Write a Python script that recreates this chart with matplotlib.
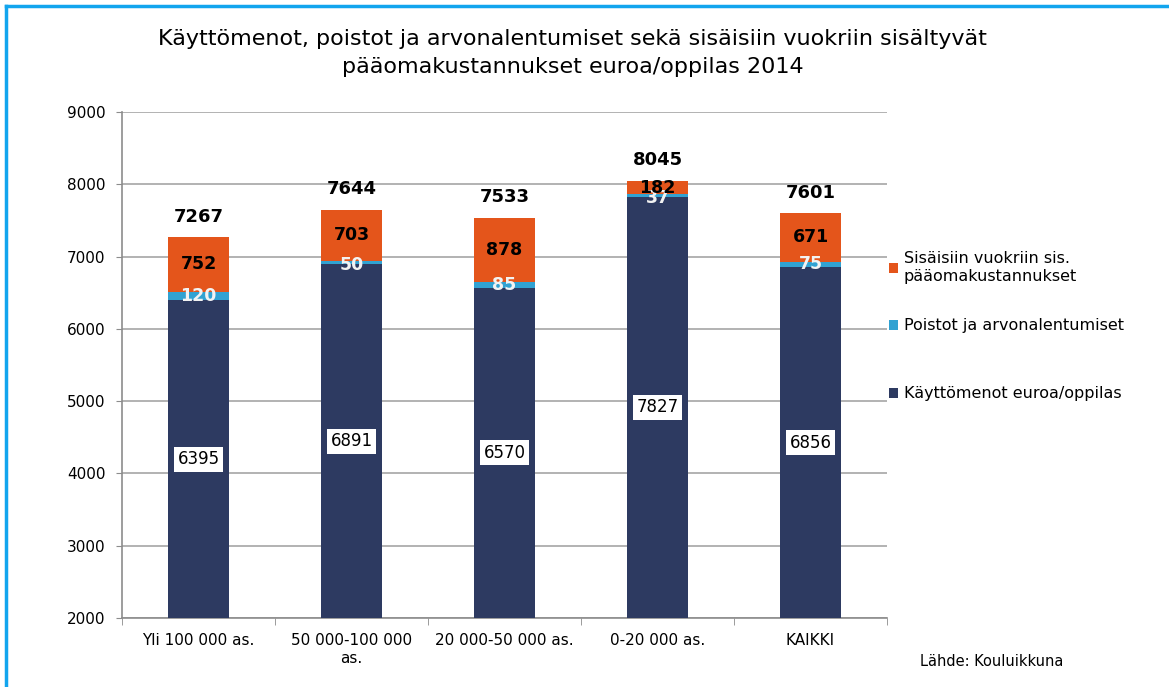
import matplotlib.pyplot as plt
from matplotlib.patches import Patch
import numpy as np

categories = ['Yli 100 000 as.', '50 000-100 000\nas.', '20 000-50 000 as.', '0-20 000 as.', 'KAIKKI']
kayttomenot = [6395, 6891, 6570, 7827, 6856]
poistot = [120, 50, 85, 37, 75]
vuokrat = [752, 703, 878, 182, 671]
totals = [7267, 7644, 7533, 8045, 7601]

series_names = ['Käyttömenot euroa/oppilas', 'Poistot ja arvonalentumiset',
                'Sisäisiin vuokriin sis.\npääomakustannukset']
colors = ['#2D3A61', '#31A2D2', '#E4551B']
ymin = 2000

plt.rcParams['font.family'] = 'DejaVu Sans'

fig = plt.figure(figsize=(11.69, 6.87), dpi=100)
ax = fig.add_axes([0.1044, 0.1004, 0.6544, 0.7366])

x = np.arange(len(categories))
k = np.array(kayttomenot)
p = np.array(poistot)
v = np.array(vuokrat)
w = 0.4

ax.bar(x, k, w, color=colors[0], zorder=3)
ax.bar(x, p, w, bottom=k, color=colors[1], zorder=3)
ax.bar(x, v, w, bottom=k + p, color=colors[2], zorder=3)

ax.set_ylim(ymin, 9000)
ax.set_xlim(-0.5, len(categories) - 0.5)
ax.set_yticks(range(2000, 9001, 1000))
ax.yaxis.grid(True, color='#A6A6A6', linewidth=1.2, zorder=0)
ax.tick_params(axis='y', labelsize=11, length=4, color='#8C8C8C', pad=8)

ax.set_xticks(x)
ax.set_xticklabels(categories, fontsize=11)
ax.set_xticks(np.arange(-0.5, len(categories)), minor=True)
ax.tick_params(axis='x', which='major', length=0, pad=11)
ax.tick_params(axis='x', which='minor', length=5, color='#8C8C8C')

for s in ['top', 'right']:
    ax.spines[s].set_visible(False)
for s in ['left', 'bottom']:
    ax.spines[s].set_color('#8C8C8C')
    ax.spines[s].set_linewidth(1.2)

for i in range(len(categories)):
    ax.text(x[i], (ymin + k[i]) / 2, str(k[i]), ha='center', va='center', fontsize=12,
            bbox=dict(facecolor='white', edgecolor='none', pad=2.5), zorder=5)
    # small segments: the label sits a little lower, as in the original
    dy = -30 if p[i] < 60 else 0
    ax.text(x[i], k[i] + p[i] / 2 + dy, str(p[i]), ha='center', va='center', fontsize=12.5,
            fontweight='bold', color='#F2F2F2', zorder=5)
    ax.text(x[i], k[i] + p[i] + v[i] / 2, str(v[i]), ha='center', va='center', fontsize=12.5,
            fontweight='bold', color='black', zorder=6)
    ax.text(x[i], totals[i] + 160, str(totals[i]), ha='center', va='bottom', fontsize=13,
            fontweight='bold', color='black', zorder=6)

# one legend per entry so the spacing follows the original
legend_y = [0.4265, 0.5255, 0.6106]
for i in range(3):
    fig.legend([Patch(facecolor=colors[i], edgecolor='none')], [series_names[i]],
               loc='center left', bbox_to_anchor=(0.748, legend_y[i]),
               frameon=False, fontsize=11.5, handlelength=0.6, handleheight=0.6,
               handletextpad=0.35)

fig.text(0.49, 0.923, 'Käyttömenot, poistot ja arvonalentumiset sekä sisäisiin vuokriin sisältyvät\n'
         'pääomakustannukset euroa/oppilas 2014', ha='center', va='center', fontsize=16,
         linespacing=1.5)
fig.text(0.787, 0.031, 'Lähde: Kouluikkuna', fontsize=10.5)

# blue frame visible on top and left
fig.add_artist(plt.Line2D([0.005, 1.0], [0.991, 0.991], color='#12A5EE', linewidth=2.5,
                          transform=fig.transFigure))
fig.add_artist(plt.Line2D([0.005, 0.005], [0.0, 0.991], color='#12A5EE', linewidth=2.5,
                          transform=fig.transFigure))

fig.savefig('out.png', dpi=100)
